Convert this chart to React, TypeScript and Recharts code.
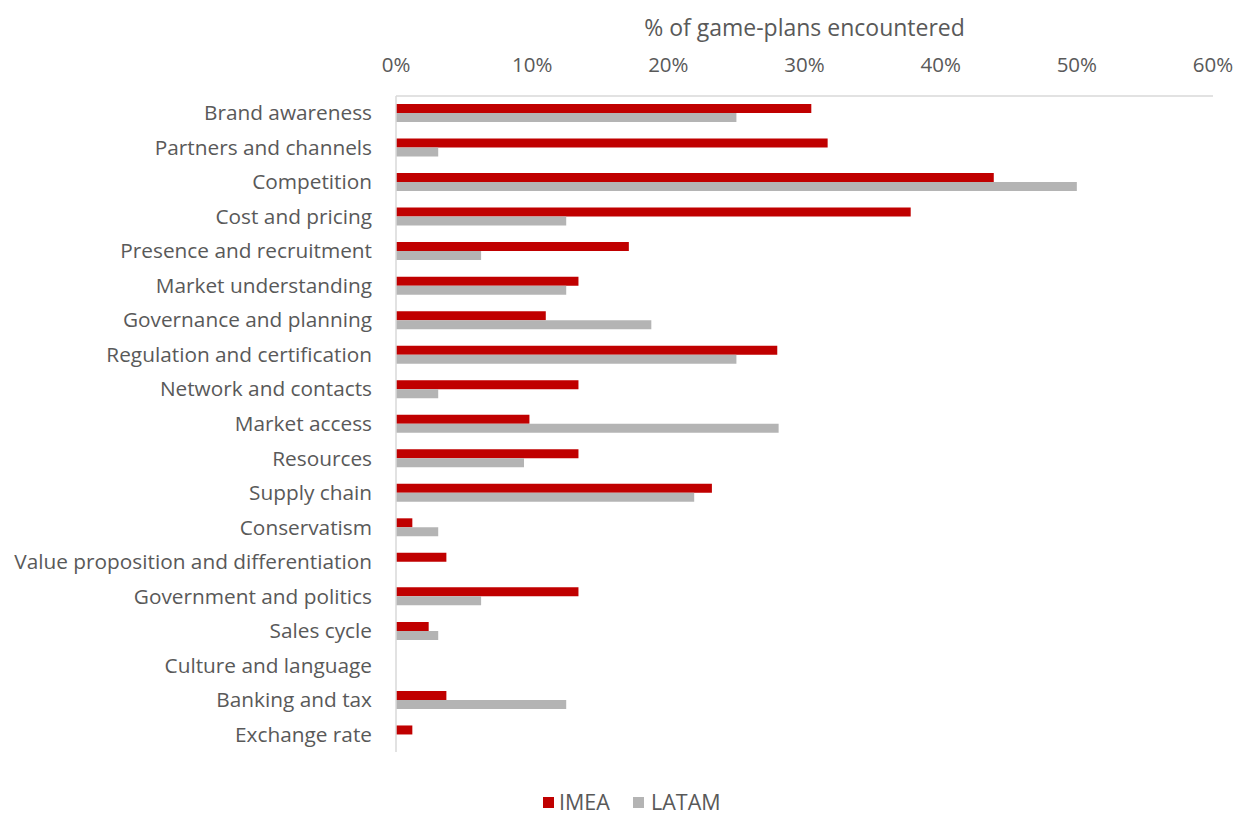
import React from "react";
import { BarChart, Bar, XAxis, YAxis, Legend } from "recharts";

const categories = [
  "Brand awareness",
  "Partners and channels",
  "Competition",
  "Cost and pricing",
  "Presence and recruitment",
  "Market understanding",
  "Governance and planning",
  "Regulation and certification",
  "Network and contacts",
  "Market access",
  "Resources",
  "Supply chain",
  "Conservatism",
  "Value proposition and differentiation",
  "Government and politics",
  "Sales cycle",
  "Culture and language",
  "Banking and tax",
  "Exchange rate",
];

const imea = [0.305, 0.317, 0.439, 0.378, 0.171, 0.134, 0.11, 0.28, 0.134, 0.098, 0.134, 0.232, 0.012, 0.037, 0.134, 0.024, 0, 0.037, 0.012];
const latam = [0.25, 0.031, 0.5, 0.125, 0.0625, 0.125, 0.1875, 0.25, 0.031, 0.281, 0.094, 0.219, 0.031, 0, 0.0625, 0.031, 0, 0.125, 0];

const xTicks = [0, 0.1, 0.2, 0.3, 0.4, 0.5, 0.6];

const data = categories.map((c, i) => ({ name: c, IMEA: imea[i], LATAM: latam[i] }));

const FONT = "'Open Sans', sans-serif";
const TEXT = "#595959";
const RED = "#c00000";
const GRAY = "#b4b4b4";

const YTick = (props: any) => {
  const { y, payload } = props;
  return (
    <text x={372} y={y} dy={7} textAnchor="end" fontFamily={FONT} fontSize={20.8} fill={TEXT}>
      {payload.value}
    </text>
  );
};

const XTick = (props: any) => {
  const { x, payload } = props;
  return (
    <text x={x} y={72} textAnchor="middle" fontFamily={FONT} fontSize={20.5} fill={TEXT}>
      {Math.round(payload.value * 100) + "%"}
    </text>
  );
};

const LegendContent = () => (
  <div style={{ position: "relative", width: 1234, height: 30, fontFamily: FONT, fontSize: 21.5, color: TEXT }}>
    <div style={{ position: "absolute", left: 543, top: 9, width: 11, height: 11, background: RED }} />
    <div style={{ position: "absolute", left: 559, top: 0, lineHeight: "28px" }}>IMEA</div>
    <div style={{ position: "absolute", left: 633, top: 9, width: 11, height: 11, background: GRAY }} />
    <div style={{ position: "absolute", left: 651, top: 0, lineHeight: "28px" }}>LATAM</div>
  </div>
);

export default function App() {
  return (
    <div style={{ position: "absolute", left: 0, top: 0, width: 1234, height: 815, background: "#fff" }}>
      <BarChart
        width={1234}
        height={815}
        data={data}
        layout="vertical"
        margin={{ top: 0, right: 21, bottom: 33, left: 0 }}
        barSize={9}
        barGap={0}
      >
        <XAxis
          type="number"
          orientation="top"
          domain={[0, 0.6]}
          ticks={xTicks}
          height={96}
          axisLine={{ stroke: "#d9d9d9", strokeWidth: 1.5 }}
          tickLine={false}
          tick={<XTick />}
          interval={0}
          label={{
            value: "% of game-plans encountered",
            position: "insideTop",
            offset: 20,
            style: { fontFamily: FONT, fontSize: 23, fill: TEXT },
          }}
        />
        <YAxis
          type="category"
          dataKey="name"
          width={396}
          axisLine={{ stroke: "#d9d9d9", strokeWidth: 1.5 }}
          tickLine={false}
          tick={<YTick />}
          interval={0}
        />
        <Legend content={<LegendContent />} wrapperStyle={{ left: 0, top: 788, width: 1234 }} />
        <Bar dataKey="IMEA" fill={RED} isAnimationActive={false} />
        <Bar dataKey="LATAM" fill={GRAY} isAnimationActive={false} />
      </BarChart>
    </div>
  );
}
